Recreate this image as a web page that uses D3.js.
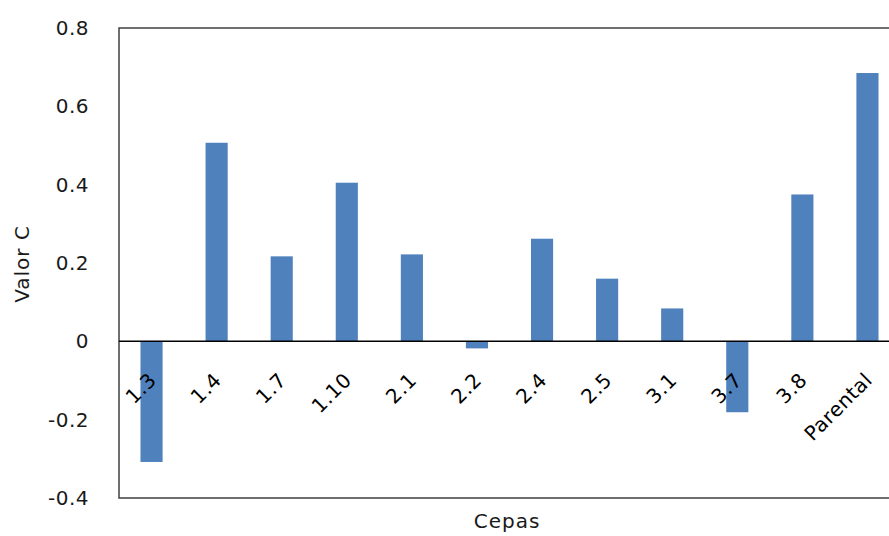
<!DOCTYPE html>
<html><head><meta charset="utf-8">
<script src="https://cdn.jsdelivr.net/npm/d3@7"></script>
<style>body{margin:0;background:#fff;}svg{display:block;}</style>
</head><body>
<script>
const categories = ["1.3","1.4","1.7","1.10","2.1","2.2","2.4","2.5","3.1","3.7","3.8","Parental"];
const values = [-0.308,0.507,0.217,0.405,0.222,-0.018,0.262,0.160,0.084,-0.181,0.375,0.685];
const yTicks = [-0.4,-0.2,0,0.2,0.4,0.6,0.8];
const yTitle = "Valor C";
const xTitle = "Cepas";

(function(){
const W = 889, H = 536;
const mLeft = 119, mTop = 28, mBottom = 498, mRight = 900;
const svg = d3.select("body").append("svg").attr("width", W).attr("height", H);
const font = "'DejaVu Sans', Verdana, sans-serif";

const x = d3.scaleBand().domain(categories).range([mLeft, mRight]).paddingInner(0.66).paddingOuter(0.33);
const y = d3.scaleLinear().domain([-0.4, 0.8]).range([mBottom, mTop]);

svg.append("g").selectAll("rect").data(values).join("rect")
  .attr("x", (d,i) => x(categories[i]))
  .attr("width", x.bandwidth())
  .attr("y", d => y(Math.max(0, d)))
  .attr("height", d => Math.abs(y(d) - y(0)))
  .attr("fill", "#4F81BD");

svg.append("path").attr("d", `M${mRight},${mTop}H${mLeft}V${mBottom}H${mRight}`)
  .attr("fill","none").attr("stroke","#404040").attr("stroke-width",1.5);

const yAxis = d3.axisLeft(y).tickValues(yTicks).tickSize(0).tickPadding(30)
  .tickFormat(d => d === 0 ? "0" : d.toFixed(1));
const gy = svg.append("g").attr("transform", `translate(${mLeft},0)`).call(yAxis);
gy.select(".domain").remove();
gy.selectAll("text").attr("font-family", font).attr("font-size", 20)
  .attr("letter-spacing", 0.5).attr("fill", "#1a1a1a");

svg.append("line").attr("x1", mLeft).attr("x2", mRight).attr("y1", y(0)).attr("y2", y(0))
  .attr("stroke", "#000").attr("stroke-width", 1.5);

const xAxis = d3.axisBottom(x).tickSize(0).tickPadding(0);
const gx = svg.append("g").attr("transform", `translate(0,${y(0)})`).call(xAxis);
gx.select(".domain").remove();
gx.selectAll("text")
  .attr("font-family", font).attr("font-size", 20).attr("letter-spacing", 0.5).attr("fill", "#000")
  .attr("text-anchor", "end")
  .attr("dy", null).attr("y", 0)
  .attr("transform", "translate(6,40) rotate(-45)");

svg.append("text").attr("x", 507).attr("y", 528).attr("text-anchor", "middle")
  .attr("font-family", font).attr("font-size", 20).attr("letter-spacing", 1).attr("fill", "#1a1a1a").text(xTitle);
svg.append("text").attr("transform", "translate(29,264) rotate(-90)").attr("text-anchor", "middle")
  .attr("font-family", font).attr("font-size", 20).attr("letter-spacing", 1).attr("fill", "#1a1a1a").text(yTitle);
})();
</script>
</body></html>
